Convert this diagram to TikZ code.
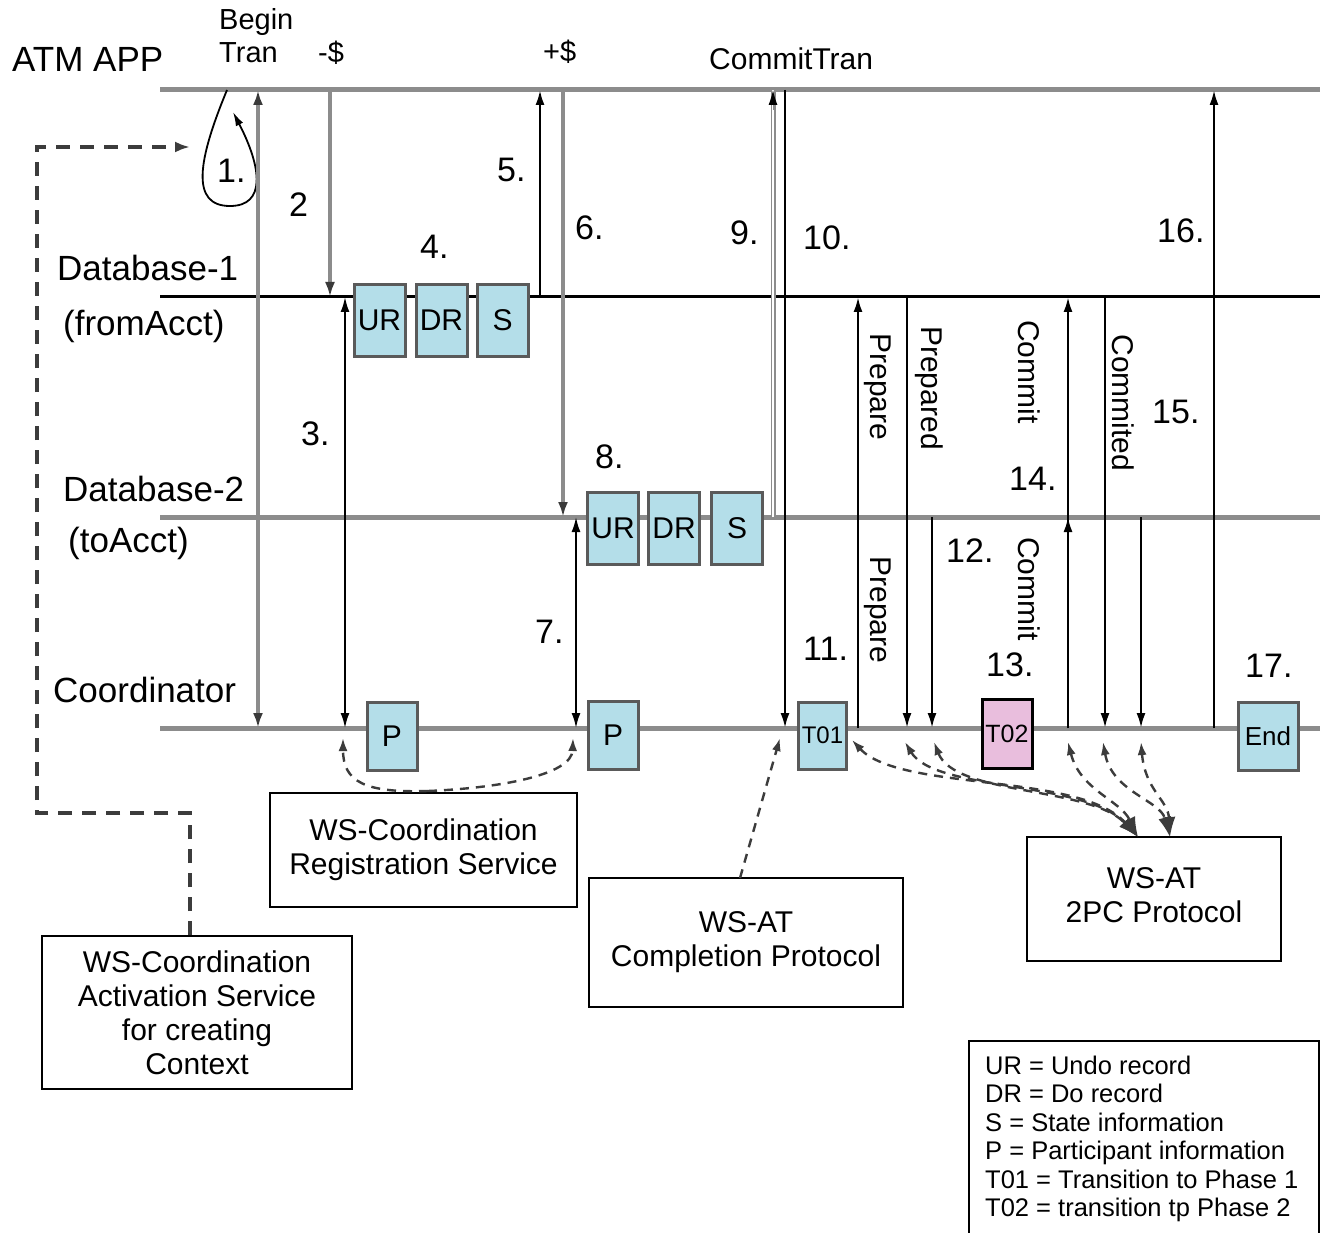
\documentclass[tikz,border=0pt]{standalone}
\usepackage{fontspec}
\setmainfont{Liberation Sans}
\usetikzlibrary{arrows.meta,calc}

\definecolor{lifegray}{HTML}{8C8C8C}
\definecolor{tipgray}{HTML}{3A3A3A}
\definecolor{recfill}{HTML}{B4DEE9}
\definecolor{recedge}{HTML}{5A5A5A}
\definecolor{phasefill}{HTML}{E9BEDD}
\definecolor{dashgray}{HTML}{3C3C3C}

\begin{document}
\begin{tikzpicture}[x=1pt,y=-1pt,
  lane/.style={line width=5pt, draw=lifegray},
  lanedark/.style={line width=3pt, draw=black},
  msg/.style={line width=2.4pt, draw=black, -{Latex[length=15pt,width=9pt]}},
  msgboth/.style={line width=2pt, draw=black, {Latex[length=15pt,width=9pt]}-{Latex[length=15pt,width=9pt]}},
  gmsg/.style={line width=4pt, draw=lifegray, -{Latex[length=15pt,width=10pt,color=tipgray]}},
  gmsgboth/.style={line width=4pt, draw=lifegray, {Latex[length=15pt,width=10pt,color=tipgray]}-{Latex[length=15pt,width=10pt,color=tipgray]}},
  dashact/.style={line width=3.2pt, draw=dashgray, dash pattern=on 14pt off 10pt, -{Latex[length=15pt,width=11pt]}},
  dashconn/.style={line width=2.4pt, draw=dashgray, dash pattern=on 9pt off 7pt},
  rec/.style={draw=recedge, line width=3pt, fill=recfill, inner sep=0pt,
    minimum width=51pt, minimum height=72pt, font=\fontsize{30}{36}\selectfont},
  svc/.style={draw=black, line width=2pt, align=center, inner sep=0pt,
    font=\fontsize{30}{34}\selectfont},
  lanelbl/.style={font=\fontsize{35}{40}\selectfont, anchor=base west, inner sep=0pt},
  toplbl/.style={font=\fontsize{29}{33}\selectfont, anchor=base west, inner sep=0pt},
  num/.style={font=\fontsize{34}{40}\selectfont, anchor=base west, inner sep=0pt},
  vlbl/.style={font=\fontsize{30}{36}\selectfont, rotate=-90, inner sep=0pt}
]
\useasboundingbox (0,0) rectangle (1320,1233);
\fill[white] (0,0) rectangle (1320,1233);

% lifelines
\coordinate (atm) at (160,90);  \coordinate (atmE) at (1320,90);
\coordinate (db1) at (160,297); \coordinate (db1E) at (1320,297);
\coordinate (db2) at (160,517); \coordinate (db2E) at (1320,517);
\coordinate (crd) at (160,728); \coordinate (crdE) at (1320,728);
\draw[lane] (atm) -- (atmE);
\draw[lanedark] (db1) -- (db1E);
\draw[lane] (db2) -- (db2E);
\draw[lane] (crd) -- (crdE);

% lane and call labels
\node[lanelbl] (lATM) at (12,72) {ATM APP};
\node[lanelbl] (lDB1) at (57,281) {Database-1};
\node[lanelbl] (lDB1b) at (63,335) {(fromAcct)};
\node[lanelbl] (lDB2) at (63,501) {Database-2};
\node[lanelbl] (lDB2b) at (68,552) {(toAcct)};
\node[lanelbl] (lCRD) at (53,702) {Coordinator};
\node[toplbl] (tBegin) at (219,30) {Begin};
\node[toplbl] (tTran) at (219,63) {Tran};
\node[toplbl] (tDebit) at (318,63) {-\$};
\node[toplbl] (tCredit) at (543,62) {+\$};
\node[toplbl, font=\fontsize{30}{34}\selectfont] (tCommit) at (709,70) {CommitTran};

% message columns
\coordinate (cBegin) at (258,0);
\coordinate (cDebit) at (330,0);
\coordinate (cReg1) at (345,0);
\coordinate (cDone1) at (540,0);
\coordinate (cCredit) at (563,0);
\coordinate (cReg2) at (576,0);
\coordinate (cCommitReq) at (773,0);
\coordinate (cCommitTran) at (785,0);
\coordinate (cPrep) at (858,0);
\coordinate (cPrepd1) at (907,0);
\coordinate (cPrepd2) at (932,0);
\coordinate (cCommit) at (1068,0);
\coordinate (cCmtd1) at (1105,0);
\coordinate (cCmtd2) at (1141,0);
\coordinate (cResult) at (1214,0);

% begin transaction loop
\coordinate (loopS) at (227,90);
\coordinate (loopE) at (233,112);
\draw[line width=1.8pt, -{Latex[length=14pt,width=8pt]}]
  (loopS) .. controls (198,160) and (190,206) .. (230,206)
          .. controls (266,206) and (262,168) .. (loopE);

% messages
\draw[gmsgboth] (cBegin|-atm) -- (cBegin|-crd);
\draw[gmsg] (cDebit|-atm) -- (cDebit|-db1);
\draw[msgboth] (cReg1|-db1) -- (cReg1|-crd);
\draw[msg] (cDone1|-db1) -- (cDone1|-atm);
\draw[gmsg] (cCredit|-atm) -- (cCredit|-db2);
\draw[msgboth] (cReg2|-db2) -- (cReg2|-crd);
\draw[line width=1.2pt, draw=lifegray, double=white, double distance=2.6pt]
  (cCommitReq|-db2) -- (cCommitReq|-atm);
\coordinate (reqTip) at (773,110);
\draw[line width=1pt, draw=lifegray, -{Latex[length=15pt,width=9pt,color=black]}]
  (reqTip) -- (cCommitReq|-atm);
\draw[msg] (cCommitTran|-atm) -- (cCommitTran|-crd);
\draw[msg] (cPrep|-crd) -- (cPrep|-db1);
\draw[msg] (cPrepd1|-db1) -- (cPrepd1|-crd);
\draw[msg] (cPrepd2|-db2) -- (cPrepd2|-crd);
\draw[msg] (cCommit|-crd) -- (cCommit|-db1);
\draw[msg] (cCommit|-crd) -- (cCommit|-db2);
\draw[msg] (cCmtd1|-db1) -- (cCmtd1|-crd);
\draw[msg] (cCmtd2|-db2) -- (cCmtd2|-crd);
\draw[msg] (cResult|-crd) -- (cResult|-atm);

% step numbers
\node[num] (n1) at (217,183) {1.};
\node[num] (n2) at (289,217) {2};
\node[num] (n3) at (301,445) {3.};
\node[num] (n4) at (420,259) {4.};
\node[num] (n5) at (497,182) {5.};
\node[num] (n6) at (575,240) {6.};
\node[num] (n7) at (535,643) {7.};
\node[num] (n8) at (595,468) {8.};
\node[num] (n9) at (730,245) {9.};
\node[num] (n10) at (803,250) {10.};
\node[num] (n11) at (803,660) {11.};
\node[num] (n12) at (946,562) {12.};
\node[num] (n13) at (986,676) {13.};
\node[num] (n14) at (1009,490) {14.};
\node[num] (n15) at (1152,423) {15.};
\node[num] (n16) at (1157,243) {16.};
\node[num] (n17) at (1245,677) {17.};

% rotated message names
\node[vlbl] (vPrep1) at (878,387) {Prepare};
\node[vlbl] (vPrep2) at (878,610) {Prepare};
\node[vlbl] (vPrepd) at (929,388) {Prepared};
\node[vlbl] (vCommit1) at (1029,372) {Commit};
\node[vlbl] (vCommit2) at (1029,589) {Commit};
\node[vlbl] (vCmtd) at (1123,403) {Commited};

% log records
\node[rec] (ur1) at (379.5,320.5) {UR};
\node[rec] (dr1) at (441.5,320.5) {DR};
\node[rec] (s1) at (502.5,320.5) {S};
\node[rec] (ur2) at (613,528) {UR};
\node[rec] (dr2) at (674,528) {DR};
\node[rec] (s2) at (737,528) {S};
\node[rec, minimum width=50pt, minimum height=68pt] (p1) at (392,736) {P};
\node[rec, minimum width=50pt, minimum height=68pt] (p2) at (613,735) {P};
\node[rec, minimum width=48pt, minimum height=67pt, font=\fontsize{24}{28}\selectfont] (t01) at (822.5,735.5) {T01};
\node[rec, draw=black, fill=phasefill, minimum width=50pt, minimum height=69pt, font=\fontsize{25}{28}\selectfont] (t02) at (1007,733.5) {T02};
\node[rec, minimum width=60pt, minimum height=68pt, font=\fontsize{26}{30}\selectfont] (end) at (1268,736) {End};

% services
\node[svc, minimum width=307pt, minimum height=114pt] (reg) at (423.5,850)
  {WS-Coordination\\Registration Service};
\node[svc, minimum width=314pt, minimum height=129pt] (cmp) at (746,942.5)
  {WS-AT\\Completion Protocol};
\node[svc, minimum width=254pt, minimum height=124pt] (pc) at (1154,899)
  {\raisebox{5pt}{\begin{tabular}{@{}c@{}}WS-AT\\2PC Protocol\end{tabular}}};
\node[svc, minimum width=310pt, minimum height=153pt] (act) at (197,1012.5)
  {WS-Coordination\\Activation Service\\for creating\\Context};

% activation context flow
\coordinate (actTurn) at (190,813);
\coordinate (actCorner) at (37,813);
\coordinate (actTop) at (37,147);
\coordinate (loopIn) at (190,147);
\draw[dashact] (act.north -| actTurn) -- (actTurn) -- (actCorner) -- (actTop) -- (loopIn);

% registration flow
\coordinate (regJoin) at (428,791);
\coordinate (regP1) at (343,738);
\coordinate (regP2) at (573,738);
\draw[dashconn, -{Latex[length=13pt,width=9pt]}] (regJoin) .. controls (365,793) and (343,782) .. (regP1);
\draw[dashconn, -{Latex[length=13pt,width=9pt]}] (regJoin) .. controls (500,788) and (572,775) .. (regP2);

% completion flow
\coordinate (cmpOut) at (740,878);
\coordinate (cmpIn) at (780,738);
\draw[dashconn, -{Latex[length=13pt,width=9pt]}] (cmpOut) -- (cmpIn);

% two-phase commit flows
\coordinate (pcL) at (1138,837);
\coordinate (pcR) at (1170,837);
\coordinate (q1) at (852,740);
\coordinate (q2) at (905,742);
\coordinate (q3) at (934,742);
\coordinate (q4) at (1068,742);
\coordinate (q5) at (1103,742);
\coordinate (q6) at (1141,742);
\begin{scope}[dashconn, {Latex[length=13pt,width=9pt]}-{Latex[length=20pt,width=13pt]}]
\draw (q1) .. controls (900,792) and (1080,772) .. (pcL);
\draw (q2) .. controls (935,792) and (1085,780) .. (pcL);
\draw (q3) .. controls (955,796) and (1090,786) .. (pcL);
\draw (q4) .. controls (1080,790) and (1120,800) .. (pcL);
\draw (q5) .. controls (1112,792) and (1160,800) .. (pcR);
\draw (q6) .. controls (1145,790) and (1168,800) .. (pcR);
\end{scope}

% legend
\draw[line width=1.5pt] (969,1240) -- (969,1041) -- (1319,1041) -- (1319,1240);
\node[anchor=base west, inner sep=0pt, font=\fontsize{25.5}{28.5}\selectfont] (legend) at (985,1074)
  {\begin{tabular}[t]{@{}l@{}}
   UR = Undo record\\
   DR = Do record\\
   S = State information\\
   P = Participant information\\
   T01 = Transition to Phase 1\\
   T02 = transition tp Phase 2
  \end{tabular}};
\end{tikzpicture}
\end{document}
